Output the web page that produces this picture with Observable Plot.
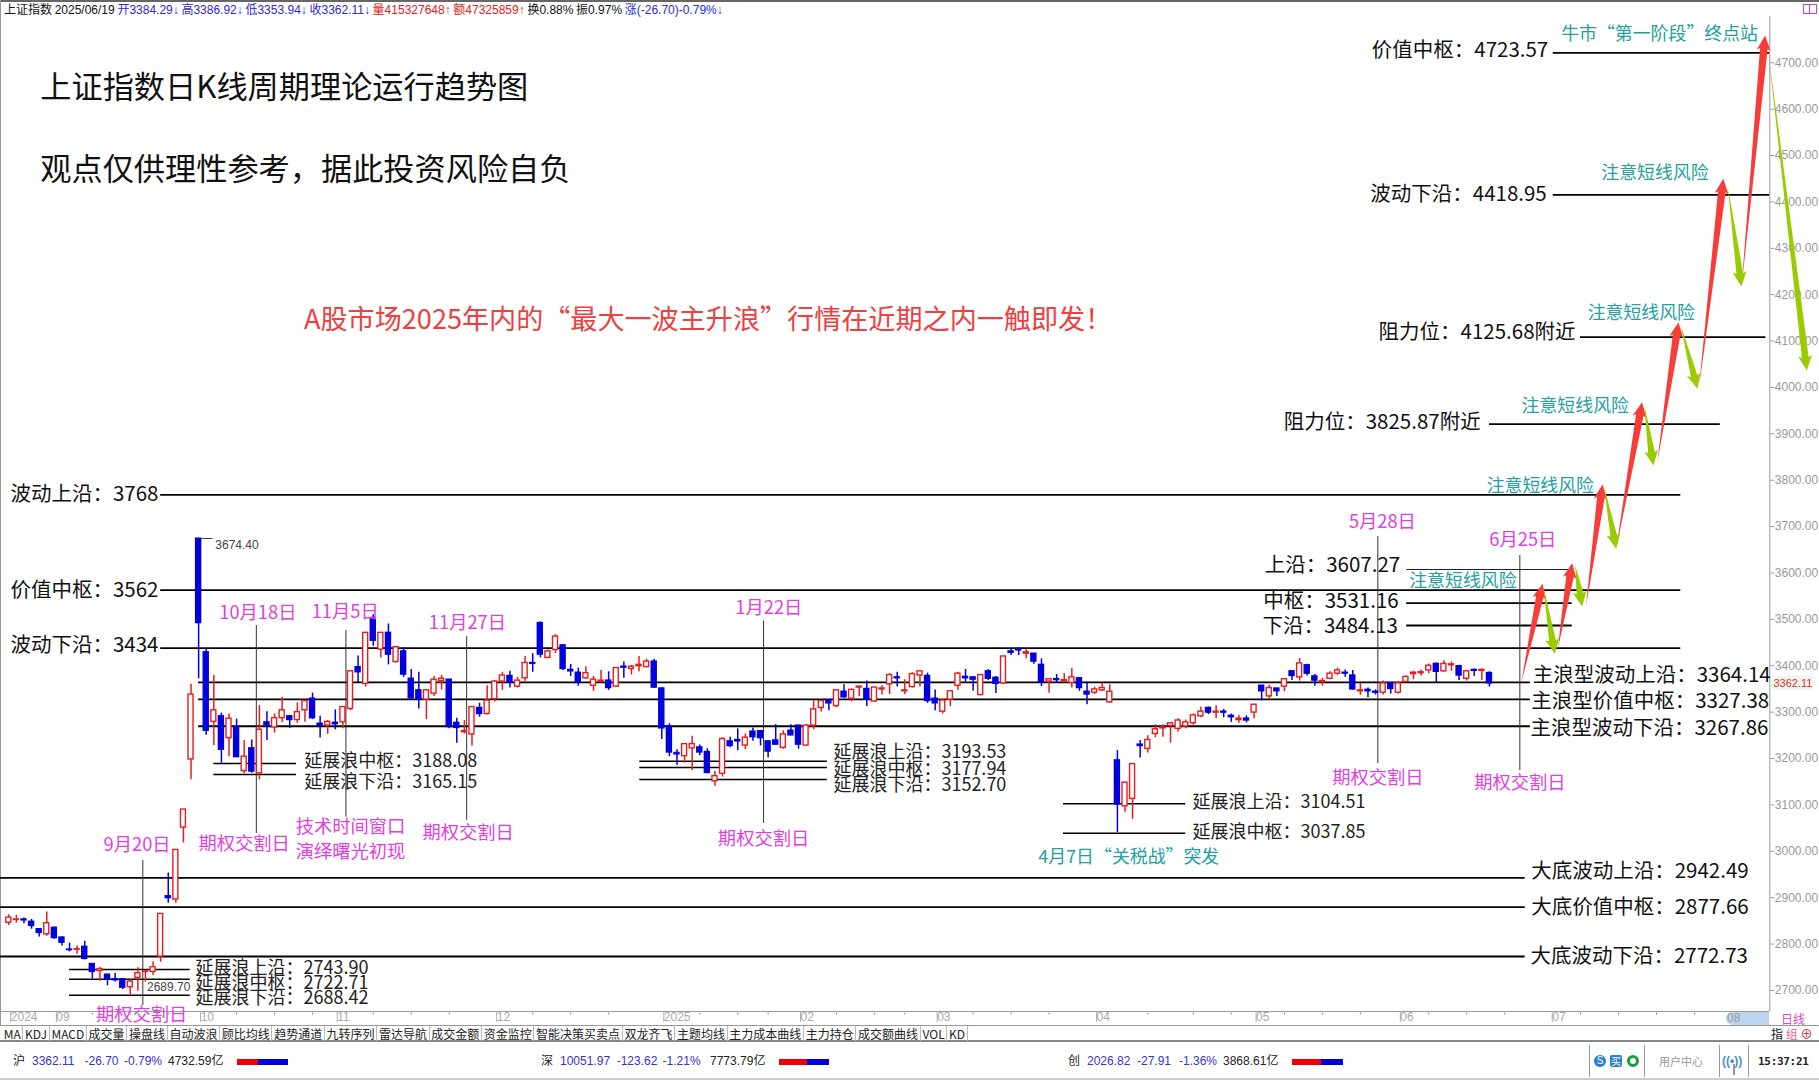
<!DOCTYPE html>
<html lang="zh-CN">
<head>
<meta charset="utf-8">
<title>上证指数日K线周期理论运行趋势图</title>
<script src="https://cdn.jsdelivr.net/npm/d3@7"></script>
<script src="https://cdn.jsdelivr.net/npm/@observablehq/plot@0.6"></script>
<style>
html,body{margin:0;padding:0;background:#fff;}
#page{position:relative;width:1819px;height:1080px;overflow:hidden;font-family:"Liberation Sans","Noto Sans CJK SC",sans-serif;font-size:12px;color:#111;}
#info{position:absolute;left:4px;top:3px;height:14px;line-height:14px;white-space:nowrap;font-size:12px;}
#chart{position:absolute;left:0;top:16px;}
#chart svg{display:block;overflow:visible;}
.b{color:#2a2ad8}.r{color:#e02020}
.abs{position:absolute;white-space:nowrap;}
#tools{position:absolute;left:2px;top:1026px;height:15px;display:flex;line-height:15px;font-family:"Noto Sans CJK SC",sans-serif;font-size:12px;color:#222;}
#tools span{padding:0 1.7px;border-right:1px solid #bbb;}
.st{position:absolute;top:1054px;line-height:15px;white-space:nowrap;font-size:12px;}
</style>
</head>
<body>
<div id="page">
<div class="abs" style="left:0;top:0;width:1819px;height:2px;background:#666"></div>
<div class="abs" style="left:0;top:0;width:1px;height:1026px;background:#999"></div>
<div id="info"></div>
<div id="chart"></div>
<div class="abs" style="left:1726px;top:1012px;width:43px;height:13px;background:#bcd6ef;border-radius:7px 0 0 7px;"></div>
<div class="abs" style="left:1727px;top:1011px;line-height:15px;color:#999;">08</div>
<div class="abs" style="left:1781px;top:1011px;line-height:15px;color:#e040e0;font-family:'Noto Sans CJK SC';">日线</div>
<div class="abs" style="left:1803px;top:4px;width:12px;height:8px;border:1px solid #d040d0;"></div>
<div class="abs" style="left:1809px;top:4px;width:1px;height:9px;background:#d040d0;"></div>
<div class="abs" style="left:0;top:1025px;width:1819px;height:1px;background:#999"></div>
<div class="abs" style="left:0;top:1040px;width:1819px;height:2px;background:#888"></div>
<div class="abs" style="left:0;top:1078px;width:1819px;height:2px;background:#ccc"></div>
<div id="tools"></div>
<div id="tright" class="abs" style="left:1771px;top:1026px;line-height:15px;font-family:'Noto Sans CJK SC';"></div>
<div id="status"></div>
</div>
<script>
// ---------- Candles (trading-day index = array position) ----------
const opens=[2846,2852,2853,2848,2832,2821,2835,2814,2788,2788,2794,2757,2742,2734,2724,2724,2707,2727,2740,2740,2773,2903,2896,3051,3198,3674,3429,3279,3291,3244,3268,3173,3222,3168,3278,3267,3287,3291,3283,3304,3329,3275,3271,3277,3278,3307,3397,3361,3503,3435,3471,3408,3431,3372,3347,3327,3340,3367,3370,3277,3257,3252,3309,3296,3328,3366,3378,3355,3373,3406,3492,3417,3434,3444,3391,3385,3373,3357,3366,3368,3355,3398,3393,3399,3397,3409,3351,3269,3212,3205,3222,3224,3214,3151,3167,3237,3240,3228,3258,3259,3237,3239,3223,3260,3271,3228,3271,3309,3325,3313,3344,3329,3353,3350,3323,3349,3360,3375,3345,3354,3379,3378,3329,3301,3327,3357,3376,3375,3337,3388,3374,3362,3431,3435,3426,3426,3402,3366,3371,3367,3363,3373,3344,3342,3347,3321,3196,3097,3113,3230,3221,3253,3265,3270,3264,3269,3276,3291,3309,3299,3301,3292,3283,3286,3299,3357,3334,3351,3355,3388,3375,3401,3377,3365,3372,3383,3385,3379,3345,3348,3344,3342,3362,3342,3365,3382,3384,3390,3404,3388,3401,3399,3372,3391,3389,3384.29];
const closes=[2857,2853,2851,2839,2824,2845,2813,2803,2787,2789,2768,2740,2746,2724,2722,2706,2719,2737,2741,2750,2865,2899,3003,3090,3338,3492,3260,3304,3219,3286,3203,3204,3172,3262,3272,3287,3304,3283,3300,3324,3287,3271,3279,3274,3311,3388,3386,3471,3454,3471,3424,3440,3381,3330,3327,3347,3370,3372,3268,3266,3259,3311,3296,3325,3366,3379,3363,3368,3406,3404,3424,3431,3463,3393,3388,3363,3384,3370,3368,3352,3395,3396,3398,3402,3409,3353,3265,3213,3209,3231,3231,3213,3169,3162,3242,3227,3237,3245,3246,3244,3215,3230,3252,3250,3230,3271,3306,3324,3319,3347,3332,3348,3355,3327,3353,3351,3380,3373,3347,3382,3388,3324,3319,3325,3345,3383,3373,3370,3380,3372,3361,3420,3428,3433,3429,3409,3364,3371,3369,3369,3375,3352,3338,3349,3352,3344,3101,3148,3188,3227,3240,3263,3267,3276,3282,3278,3293,3301,3299,3301,3299,3289,3286,3282,3316,3345,3352,3345,3371,3378,3405,3383,3368,3367,3383,3390,3383,3349,3347,3345,3342,3362,3350,3362,3376,3385,3386,3400,3387,3404,3403,3379,3388,3389,3391,3362.11];
const highs=[2863,2862,2856,2853,2832,2869,2837,2815,2802,2796,2806,2757,2750,2734,2737,2724,2723,2749,2743,2762,2865,2953,3003,3090,3360,3674.4,3437,3379,3298,3296,3285,3239,3240,3314,3301,3296,3332,3293,3320,3324,3341,3291,3282,3305,3312,3388,3421,3471,3510,3471,3490,3442,3439,3392,3386,3347,3377,3379,3370,3287,3282,3311,3319,3357,3368,3386,3388,3375,3420,3426,3495,3434,3467,3444,3403,3395,3398,3377,3390,3387,3395,3408,3401,3420,3414,3414,3352,3275,3219,3232,3248,3229,3221,3172,3245,3246,3264,3253,3266,3259,3237,3273,3260,3273,3271,3273,3325,3324,3327,3348,3359,3350,3355,3367,3354,3357,3383,3386,3370,3385,3390,3384,3348,3327,3345,3386,3392,3375,3381,3392,3377,3421,3436,3439,3436,3426,3415,3371,3381,3383,3394,3373,3362,3354,3361,3359,3217,3148,3188,3239,3249,3273,3273,3276,3286,3283,3296,3311,3311,3314,3306,3296,3293,3292,3316,3357,3358,3351,3371,3388,3416,3403,3381,3373,3387,3395,3391,3390,3362,3352,3348,3367,3362,3365,3378,3388,3391,3404,3406,3411,3408,3401,3390,3393,3393,3386.92];
const lows=[2840,2845,2844,2832,2815,2817,2810,2796,2783,2778,2766,2725,2720,2710,2718,2702,2689.7,2698,2718,2732,2761,2888,2888,3018,3154,3372,3250,3228,3190,3204,3202,3167,3168,3154,3239,3255,3277,3265,3276,3278,3284,3244,3252,3262,3264,3303,3364,3354,3442,3417,3402,3406,3375,3327,3307,3284,3334,3348,3264,3233,3253,3227,3289,3294,3322,3347,3352,3352,3365,3386,3417,3415,3426,3390,3377,3356,3371,3345,3364,3347,3353,3373,3380,3387,3396,3351,3241,3204,3185,3190,3174,3206,3167,3140,3160,3223,3217,3219,3237,3227,3201,3229,3220,3249,3220,3227,3262,3300,3303,3309,3330,3322,3334,3312,3321,3337,3338,3354,3338,3352,3354,3319,3303,3296,3312,3347,3365,3345,3335,3368,3340,3361,3422,3422,3415,3403,3355,3341,3362,3363,3352,3345,3316,3338,3344,3319,3040,3084,3069,3201,3212,3245,3246,3233,3257,3264,3272,3288,3295,3286,3288,3278,3276,3277,3286,3324,3328,3334,3344,3368,3367,3378,3356,3356,3370,3379,3375,3348,3336,3331,3337,3337,3339,3339,3364,3370,3378,3383,3363,3386,3388,3368,3367,3377,3368,3353.94];

// ---------- Axes ----------
const monthTicks=[0,6,25,43,64,86,104,122,143,164,183,203];
const monthLabels=["2024","09","10","11","12","2025","02","03","04","05","06","07"];
const minorTicks=[11,16,21,30,35,40,48,53,58,69,74,79,91,96,100,109,114,118,127,132,137,150,156,161,168,173,178,187,192,197,207,212,217,222,231];
const priceTicks=d3.range(2700,4701,100);

// ---------- Levels: [price, from index, to index] ----------
const majorLevels=[[3768.6,20,220.2],[3562.9,20,220.2],[3437.9,20,220.2],[3364.14,25,200.4],[3327.38,25,200.4],[3269.6,25,200.4],[2942.49,-1.09,199.7],[2879.5,-1.09,199.7],[2773.2,-1.09,199.7],[4721.5,203.4,231.9],[4415.4,203.4,231.9],[4108.4,207,231.4],[3920.8,195,225.4],[3534.9,184.1,205.9],[3486.8,184.1,205.9]];
const thinLevels=[[3607.5,184.1,205.4]];
const extensionLevels=[[2745.1,8,23.9],[2724.2,8,23.9],[2689.7,8,23.9],[3189.3,27,37.9],[3165.6,27,37.9],[3194.2,83.1,107.8],[3180.6,83.1,107.8],[3154.8,83.1,107.8],[3102.4,138.9,155],[3039,138.9,155]];
const markerLines=[[17.65,2980.2,2667.5],[32.6,3486.8,3038.3],[44.4,3476,3073.5],[60.3,3463,3066.4],[99.4,3496.3,3060],[180.3,3678.7,3189.3],[199,3637.7,3174.2]];

// ---------- Text annotations: [text, index, price] ----------
const levelLabels=[
["波动上沿：3768",0.22,3769.2],["价值中枢：3562",0.22,3562.3],["波动下沿：3434",0.22,3443.7],
["价值中枢：4723.57",179.5,4726.5],["波动下沿：4418.95",179.3,4416],["阻力位：4125.68附近",180.4,4118.5],["阻力位：3825.87附近",167.9,3924.5],
["上沿：3607.27",165.4,3616.2],["中枢：3531.16",165.2,3538.5],["下沿：3484.13",165.1,3484.6],
["主浪型波动上沿：3364.14",200.7,3379],["主浪型价值中枢：3327.38",200.5,3323.6],["主浪型波动下沿：3267.86",200.4,3265.4],
["大底波动上沿：2942.49",200.5,2956.4],["大底价值中枢：2877.66",200.5,2878.8],["大底波动下沿：2772.73",200.4,2773.2]];
const extensionLabels=[
["延展浪上沿：2743.90",24.6,2748.8],["延展浪中枢：2722.71",24.6,2715],["延展浪下沿：2688.42",24.6,2682.6],
["延展浪中枢：3188.08",38.9,3193.6],["延展浪下沿：3165.15",38.9,3149],
["延展浪上沿：3193.53",108.6,3213],["延展浪中枢：3177.94",108.6,3176.3],["延展浪下沿：3152.70",108.6,3141.8],
["延展浪上沿：3104.51",155.9,3105.2],["延展浪中枢：3037.85",155.9,3040.5]];
const magentaLabels=[
["9月20日",16.9,3012.5],["期权交割日",17.5,2645.9],["10月18日",32.8,3512.7],["期权交割日",31,3014.6],["11月5日",44.3,3515.5],["11月27日",60.4,3491.7],
["技术时间窗口",45,3051.3],["演绎曙光初现",45,2998.2],["期权交割日",60.5,3038.3],["1月22日",100.1,3523.4],["期权交割日",99.4,3026],
["5月28日",180.9,3708.9],["期权交割日",180.3,3157.6],["6月25日",199.4,3671.1],["期权交割日",199,3146.1]];
const tealLabels=[
["4月7日“关税战”突发",147.5,2986.6],["牛市“第一阶段”终点站",217.4,4761],["注意短线风险",216.8,4462],["注意短线风险",215,4159.5],["注意短线风险",206.3,3959],["注意短线风险",201.7,3787.1],["注意短线风险",191.5,3581.7]];
const priceNotes=[["3674.40",27.2,3659.3],["2689.70",18.2,2706.3]];
const titleLines=[["上证指数日K线周期理论运行趋势图",4.15,4646],["观点仅供理性参考，据此投资风险自负",4.15,4469]];
const headline=[["A股市场2025年内的“最大一波主升浪”行情在近期之内一触即发！",92.1,4144.4]];

// ---------- Projected wave arrows: [from index, from price, to index, to price] ----------
const upArrows=[[199.2,3364.6,202,3576.7],[204,3436.6,205.9,3621.1],[207.7,3526.3,209.9,3790.8],[211.7,3652.8,215.1,3968.3],[217.1,3838.9,219.9,4140.7],[222.6,4000.6,225.8,4449.9],[228.2,4217.7,231.3,4758.9]];
const downArrows=[[202.1,3570.9,203.6,3425.8],[206.3,3616.2,207.2,3527.8],[210.1,3785,211.7,3652.2],[215.4,3961.2,216.6,3831.8],[220.2,4133.6,222.4,3997.1],[226.4,4431.8,228.2,4217.7],[231.7,4726.5,236.8,4036.6]];

// ---------- Scale settings ----------
const W=1819,H=1010,mRight=49.7,mBottom=15;
const xDomain=[-1.093,231.92],yDomain=[2654.6,4799.8];
const pxPerI=(W-mRight)/(xDomain[1]-xDomain[0]);
const pxPerV=(H-mBottom)/(yDomain[1]-yDomain[0]);

function arrowShape(list,halfShaft,halfHead,headLen){
  const out=[];
  list.forEach((a,id)=>{
    const dx=(a[2]-a[0])*pxPerI,dy=(a[3]-a[1])*pxPerV,len=Math.hypot(dx,dy),ux=dx/len,uy=dy/len,nx=-uy,ny=ux;
    const p=(t,s)=>({id,x:a[0]+(ux*t+nx*s)/pxPerI,y:a[1]+(uy*t+ny*s)/pxPerV});
    out.push(p(0,0),p(len-headLen,halfShaft),p(len-headLen-2,halfHead),p(len,0),p(len-headLen-2,-halfHead),p(len-headLen,-halfShaft));
  });
  return out;
}
const candles=opens.map((o,i)=>({i,o,c:closes[i],h:highs[i],l:lows[i]}));
const up=candles.filter(d=>d.c>=d.o),down=candles.filter(d=>d.c<d.o);
const RED="#e81c1c",BLUE="#0000dc",CJK="Noto Sans CJK SC",NUM="Liberation Sans";
const ht=(rows,opt)=>Plot.text(rows,{text:d=>d[0],x:d=>d[1],y:d=>d[2],fontFamily:CJK,...opt});
const lv=(rows,w,c)=>Plot.ruleY(rows,{y:d=>d[0],x1:d=>d[1],x2:d=>d[2],stroke:c||"#000",strokeWidth:w});
const lastClose=closes[closes.length-1];

const chart=Plot.plot({
  width:W,height:H,marginTop:0,marginLeft:0,marginRight:mRight,marginBottom:mBottom,
  x:{domain:xDomain},y:{domain:yDomain},
  style:{background:"transparent",overflow:"visible"},
  marks:[
    // axes
    Plot.ruleX([xDomain[1]],{stroke:"#999",strokeWidth:1}),
    Plot.ruleY([yDomain[0]],{stroke:"#999",strokeWidth:1}),
    Plot.axisY({anchor:"right",ticks:priceTicks,tickFormat:d3.format(".2f"),tickSize:4,tickPadding:1,stroke:"#999",color:"#999",fill:"#999",fontSize:12,fontFamily:NUM,label:null}),
    Plot.axisX({anchor:"bottom",ticks:monthTicks,tickFormat:d=>monthLabels[monthTicks.indexOf(d)],tickSize:11,tickPadding:-10,textAnchor:"start",dx:2,stroke:"#aaa",fill:"#aaa",fontSize:12,fontFamily:NUM,label:null}),
    Plot.axisX({anchor:"bottom",ticks:minorTicks,tickFormat:()=>"",tickSize:4,stroke:"#aaa",label:null}),
    // levels
    lv(majorLevels,1.8),
    lv(thinLevels,1.2,"#222"),
    lv(extensionLevels,1.6),
    Plot.ruleX(markerLines,{x:d=>d[0],y1:d=>d[1],y2:d=>d[2],stroke:"#333",strokeWidth:1}),
    // candles
    Plot.ruleX(up,{x:"i",y1:"l",y2:"h",stroke:RED,strokeWidth:1.5}),
    Plot.ruleX(down,{x:"i",y1:"l",y2:"h",stroke:BLUE,strokeWidth:1.5}),
    Plot.rect(up,{x1:d=>d.i-0.33,x2:d=>d.i+0.33,y1:"o",y2:"c",fill:"white",stroke:RED,strokeWidth:1.4}),
    Plot.rect(down,{x1:d=>d.i-0.33,x2:d=>d.i+0.33,y1:"o",y2:"c",fill:BLUE,stroke:BLUE,strokeWidth:1.4}),
    Plot.ruleY([3674.4],{x1:25.4,x2:26.9,stroke:"#444",strokeWidth:1}),
    // arrows
    Plot.line(arrowShape(upArrows,3.8,7,13),{x:"x",y:"y",z:"id",fill:"#f83c38",stroke:"none"}),
    Plot.line(arrowShape(downArrows,3.4,7,13),{x:"x",y:"y",z:"id",fill:"#98cb00",stroke:"none"}),
    // text
    ht(titleLines,{fontSize:31.2,fill:"#111",textAnchor:"start"}),
    ht(headline,{fontSize:27.1,fill:"#ee4040"}),
    ht(levelLabels,{fontSize:20.5,fill:"#111",textAnchor:"start"}),
    ht(extensionLabels,{fontSize:18,fill:"#222",textAnchor:"start"}),
    ht(magentaLabels,{fontSize:18.3,fill:"#e03fe0"}),
    ht(tealLabels,{fontSize:17.9,fill:"#23a0a0"}),
    Plot.text(priceNotes,{text:d=>d[0],x:d=>d[1],y:d=>d[2],textAnchor:"start",fontFamily:NUM,fontSize:12,fill:"#444"}),
    // current price tag
    Plot.rect([lastClose],{x1:232.2,x2:237.7,y1:d=>d-15,y2:d=>d+15,fill:"#f2f2ee"}),
    Plot.text([lastClose],{x:232.4,y:d=>d,text:d=>d3.format(".2f")(d),textAnchor:"start",fontFamily:NUM,fontSize:11,fill:"#e03030"})
  ]
});
document.getElementById("chart").appendChild(chart);

// ---------- Terminal chrome (real text) ----------
const infoParts=[["上证指数 ",""],["2025/06/19 ",""],["开3384.29↓ ","b"],["高3386.92↓ ","b"],["低3353.94↓ ","b"],["收3362.11↓ ","b"],["量415327648↑ ","r"],["额47325859↑ ","r"],["换0.88% ",""],["振0.97% ",""],["涨(-26.70)-0.79%↓","b"]];
document.getElementById("info").innerHTML=infoParts.map(([t,c])=>`<span class="${c}" style="margin-right:-0.7px">${t}</span>`).join("");
const toolItems=["MA","KDJ","MACD","成交量","操盘线","自动波浪","顾比均线","趋势通道","九转序列","雷达导航","成交金额","资金监控","智能决策买卖点","双龙齐飞","主题均线","主力成本曲线","主力持仓","成交额曲线","VOL","KD"];
document.getElementById("tools").innerHTML=toolItems.map(t=>`<span>${t}</span>`).join("");
document.getElementById("tright").innerHTML=`<span style="color:#111">指</span> <span style="color:#f06090">组</span> <span style="color:#b02020">⊕</span>`;
const statusRows=[
 {x:[13,32,84.5,124,168],t:["沪","3362.11","-26.70","-0.79%","4732.59亿"],bar:[237,258,288]},
 {x:[541,560,616.7,662.6,710],t:["深","10051.97","-123.62","-1.21%","7773.79亿"],bar:[779,806.5,829]},
 {x:[1068,1087,1137,1179,1223],t:["创","2026.82","-27.91","-1.36%","3868.61亿"],bar:[1292,1320.5,1342.5]}];
let s="";
statusRows.forEach(r=>{
  r.t.forEach((t,k)=>{const col=(k>0&&k<4)?"#3434c8":"#222";s+=`<span class="st" style="left:${r.x[k]}px;color:${col}">${t}</span>`;});
  s+=`<div class="abs" style="left:${r.bar[0]}px;top:1059px;width:${r.bar[1]-r.bar[0]}px;height:6px;background:#f00000"></div>`;
  s+=`<div class="abs" style="left:${r.bar[1]}px;top:1059px;width:${r.bar[2]-r.bar[1]}px;height:6px;background:#0000e0"></div>`;
});
[1589,1644,1719,1748].forEach(x=>{s+=`<div class="abs" style="left:${x}px;top:1045px;width:1px;height:32px;background:#999"></div>`;});
s+=`<div class="abs" style="left:1594px;top:1055px;width:12px;height:12px;border-radius:50%;background:#2a7fd0;color:#fff;font-size:10px;line-height:12px;text-align:center;">S</div>`;
s+=`<div class="abs" style="left:1610px;top:1055px;width:12px;height:12px;border-radius:2px;background:#2a7fd0;color:#fff;font:10px/12px 'Noto Sans CJK SC';text-align:center;">买</div>`;
s+=`<div class="abs" style="left:1627px;top:1055px;width:6px;height:6px;border-radius:50%;border:3px solid #1a9a3a;background:#fff;"></div>`;
s+=`<span class="st" style="left:1659px;color:#999;font-size:11px;font-family:'Noto Sans CJK SC'">用户中心</span>`;
s+=`<span class="st" style="left:1722px;top:1050px;color:#4a90c8;font-size:12px;font-weight:bold;line-height:22px">((•))</span>`;
s+=`<div class="abs" style="left:1733px;top:1064px;width:2px;height:11px;background:#999"></div>`;
s+=`<span class="st" style="left:1758px;font-weight:bold;font-size:11px;font-family:'DejaVu Sans Mono';letter-spacing:-0.3px;color:#222">15:37:21</span>`;
document.getElementById("status").innerHTML=s;
</script>
</body>
</html>
